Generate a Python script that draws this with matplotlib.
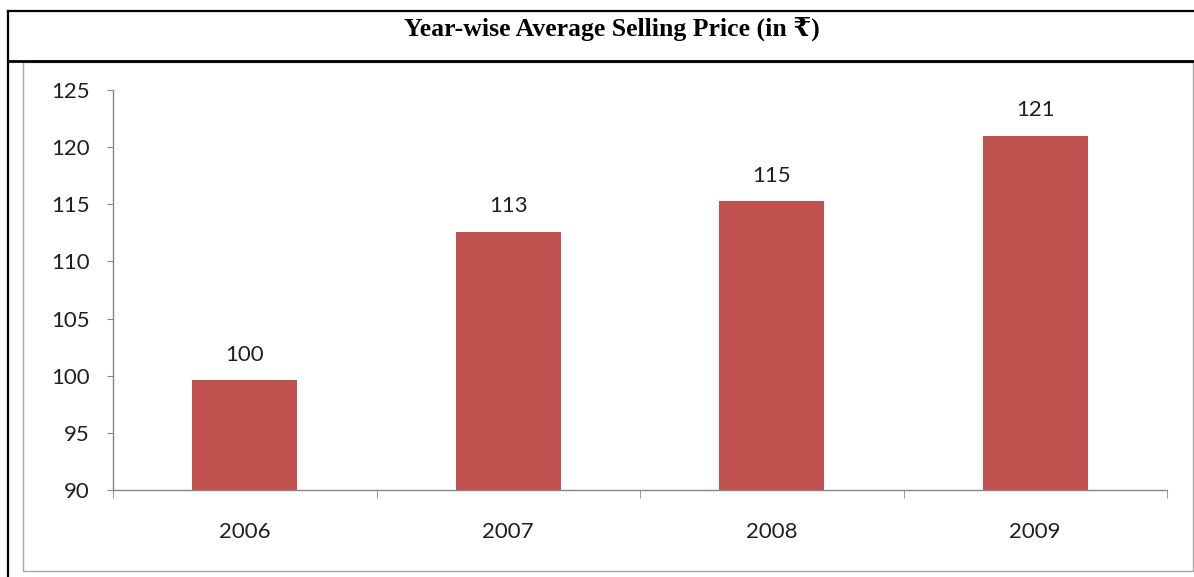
import matplotlib.pyplot as plt
from matplotlib.lines import Line2D
from matplotlib.patches import Rectangle

# Chart data
years = ['2006', '2007', '2008', '2009']
avg_price = [99.6, 112.6, 115.3, 121.0]
yticks = [90, 95, 100, 105, 110, 115, 120, 125]

bar_color = '#C0504D'
axis_gray = '#868686'
text_color = '#1F1F1F'

fig = plt.figure(figsize=(11.94, 5.77), dpi=100)
W, H = 1194, 577


def fx(px):
    return px / W


def fy(py):
    return 1 - py / H


# Outer table frame (black) and title row
fig.add_artist(Line2D([fx(8), fx(8)], [fy(11), fy(577)], color='black', lw=1.6, transform=fig.transFigure))
fig.add_artist(Line2D([fx(8), 1], [fy(11), fy(11)], color='black', lw=1.6, transform=fig.transFigure))
fig.add_artist(Line2D([fx(8), 1], [fy(61), fy(61)], color='black', lw=2.0, transform=fig.transFigure))
fig.text(fx(612), fy(29), 'Year-wise Average Selling Price (in \u20b9)',
         ha='center', va='center', fontsize=18.5, fontweight='bold',
         family=['Liberation Serif', 'DejaVu Serif', 'DejaVu Sans'])

# Inner chart box (light gray)
fig.add_artist(Rectangle((fx(23), fy(571)), fx(1193) - fx(23), fy(62) - fy(571),
                         fill=False, edgecolor='#A6A6A6', lw=1.0, transform=fig.transFigure))

ax = fig.add_axes([fx(113), fy(490), fx(1167) - fx(113), fy(90) - fy(490)])
x = list(range(len(years)))
ax.bar(x, avg_price, width=0.4, color=bar_color, bottom=0)

# Data labels
for xi, v in zip(x, avg_price):
    ax.annotate(f'{v:.0f}', (xi, v), xytext=(0, 11), textcoords='offset points',
                ha='center', va='bottom', fontsize=16, color=text_color, family='Lato')

ax.set_ylim(90, 125)
ax.set_xlim(-0.5, 3.5)
ax.set_yticks(yticks)
ax.set_xticks(x)
ax.set_xticklabels(years)
ax.set_xticks([-0.5, 0.5, 1.5, 2.5, 3.5], minor=True)

for s in ['top', 'right']:
    ax.spines[s].set_visible(False)
for s in ['left', 'bottom']:
    ax.spines[s].set_color(axis_gray)
    ax.spines[s].set_linewidth(1.0)

ax.tick_params(axis='y', direction='out', length=4.5, color=axis_gray, pad=12,
               labelsize=16, labelcolor=text_color)
ax.tick_params(axis='x', which='major', length=0, pad=23, labelsize=16, labelcolor=text_color)
ax.tick_params(axis='x', which='minor', direction='out', length=6, color=axis_gray)
for lab in ax.get_xticklabels() + ax.get_yticklabels():
    lab.set_family('Lato')

fig.savefig('out.png', dpi=100)
